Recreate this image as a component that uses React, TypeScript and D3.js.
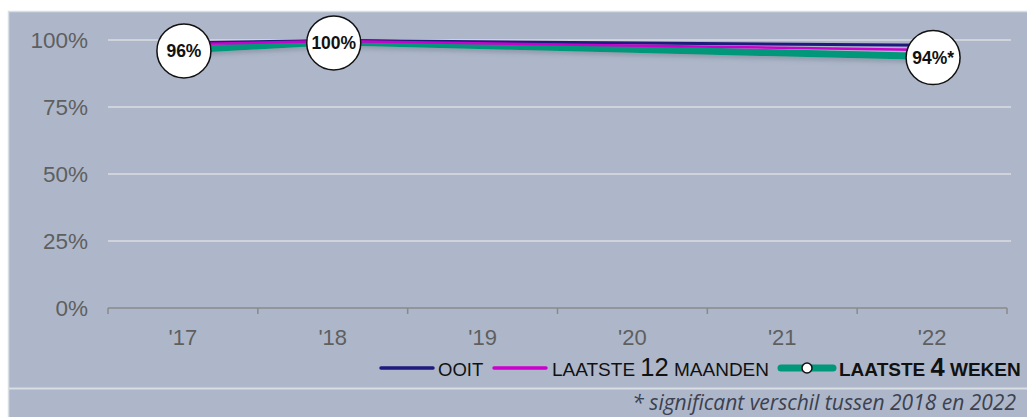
import React, { useRef, useEffect } from 'react';
import * as d3 from 'd3';

const years = ["'17", "'18", "'19", "'20", "'21", "'22"];
const ooit: (number | null)[] = [99, 99.8, null, null, null, 98];
const laatste12: (number | null)[] = [98.4, 99.6, null, null, null, 96.3];
const laatste4: (number | null)[] = [96.3, 99.3, null, null, null, 93.8];
const bubbleLabels: (string | null)[] = ['96%', '100%', null, null, null, '94%*'];
const yTicks = [0, 25, 50, 75, 100];

const W = 1027;
const H = 417;
const BG = '#adb7c9';
const FONT = 'Liberation Sans, Arial, sans-serif';

export default function App() {
  const ref = useRef<SVGSVGElement | null>(null);

  useEffect(() => {
    if (!ref.current) return;
    const svg = d3.select(ref.current);
    svg.selectAll('*').remove();

    const defs = svg.append('defs');
    const f = defs.append('filter').attr('id', 'shadow').attr('x', '-5%').attr('y', '-50%').attr('width', '110%').attr('height', '300%');
    f.append('feDropShadow').attr('dx', 0).attr('dy', 3).attr('stdDeviation', 2).attr('flood-color', '#5a6478').attr('flood-opacity', 0.35);

    // panels
    svg.append('rect').attr('x', 8).attr('y', 11).attr('width', W - 8).attr('height', H - 11).attr('fill', BG);
    svg.append('line').attr('x1', 8).attr('x2', W).attr('y1', 11.5).attr('y2', 11.5).attr('stroke', '#d9dde4').attr('stroke-width', 1.5);
    svg.append('line').attr('x1', 8.5).attr('x2', 8.5).attr('y1', 11).attr('y2', H).attr('stroke', '#d9dde4').attr('stroke-width', 1.5);
    svg.append('line').attr('x1', 8).attr('x2', W).attr('y1', 388.5).attr('y2', 388.5).attr('stroke', '#d9dde4').attr('stroke-width', 2);

    const x = d3.scaleBand<string>().domain(years).range([108, 1007]);
    const y = d3.scaleLinear().domain([0, 100]).range([308, 40]);

    // gridlines
    svg.append('g').selectAll('line').data(yTicks.filter(t => t > 0)).join('line')
      .attr('x1', 108).attr('x2', 1011)
      .attr('y1', d => y(d)).attr('y2', d => y(d))
      .attr('stroke', '#dcdde0').attr('stroke-width', 1.5);

    // y labels
    svg.append('g').selectAll('text').data(yTicks).join('text')
      .attr('x', 88).attr('y', d => y(d)).attr('dy', '0.36em')
      .attr('text-anchor', 'end')
      .attr('font-family', FONT).attr('font-size', 22.5)
      .attr('fill', '#5f5f5f')
      .text(d => `${d}%`);

    // x axis
    const xAxis = svg.append('g').attr('transform', `translate(0,${y(0)})`)
      .call(d3.axisBottom(x).tickSize(0).tickPadding(0));
    xAxis.select('.domain').remove();
    xAxis.selectAll('.tick text').attr('y', 37).attr('dy', 0)
      .attr('font-family', FONT).attr('font-size', 22).attr('fill', '#5f5f5f');
    svg.append('line').attr('x1', 108).attr('x2', 1007).attr('y1', y(0)).attr('y2', y(0)).attr('stroke', '#8a8a8a').attr('stroke-width', 1.5);
    const bounds = years.map(d => x(d) as number).concat([1007]);
    svg.append('g').selectAll('line').data(bounds).join('line')
      .attr('x1', d => d).attr('x2', d => d)
      .attr('y1', y(0)).attr('y2', y(0) + 6)
      .attr('stroke', '#8a8a8a').attr('stroke-width', 1.5);

    const cx = (i: number) => (x(years[i]) as number) + x.bandwidth() / 2;
    const line = d3.line<[number, number]>().x(d => d[0]).y(d => d[1]);
    const pts = (arr: (number | null)[]) =>
      arr.map((v, i) => (v == null ? null : [cx(i), y(v)] as [number, number])).filter(Boolean) as [number, number][];

    svg.append('path').datum(pts(laatste4)).attr('d', line).attr('fill', 'none')
      .attr('stroke', '#00977a').attr('stroke-width', 7).attr('filter', 'url(#shadow)');
    svg.append('path').datum(pts(ooit)).attr('d', line).attr('fill', 'none')
      .attr('stroke', '#1e1a7e').attr('stroke-width', 3);
    svg.append('path').datum(pts(laatste12)).attr('d', line).attr('fill', 'none')
      .attr('stroke', '#cc00cc').attr('stroke-width', 2.5);

    // bubbles
    const bubbles = laatste4.map((v, i) => ({ v, i, label: bubbleLabels[i] })).filter(d => d.v != null && d.label);
    const bg = svg.append('g').selectAll('g').data(bubbles).join('g')
      .attr('transform', d => `translate(${cx(d.i) + 1},${y(d.v as number) + 1})`);
    bg.append('circle').attr('r', 27).attr('fill', '#fff').attr('stroke', '#111').attr('stroke-width', 1.5);
    bg.append('text').attr('text-anchor', 'middle').attr('dy', '0.36em')
      .attr('font-family', FONT).attr('font-size', 17.5).attr('font-weight', 'bold')
      .attr('fill', '#111').text(d => d.label as string);

    // legend
    const ly = 368;
    const lg = svg.append('g').attr('font-family', FONT).attr('fill', '#111');
    lg.append('line').attr('x1', 381).attr('x2', 433).attr('y1', ly).attr('y2', ly).attr('stroke', '#1e1a7e').attr('stroke-width', 3.5).attr('stroke-linecap', 'round');
    lg.append('text').attr('x', 438).attr('y', ly + 8).attr('font-size', 18.5).text('OOIT');
    lg.append('line').attr('x1', 494).attr('x2', 546).attr('y1', ly).attr('y2', ly).attr('stroke', '#cc00cc').attr('stroke-width', 3.5).attr('stroke-linecap', 'round');
    const t12 = lg.append('text').attr('x', 552).attr('y', ly + 8).attr('font-size', 19);
    t12.append('tspan').text('LAATSTE ');
    t12.append('tspan').attr('font-size', 25.5).text('12');
    t12.append('tspan').text(' MAANDEN');
    lg.append('line').attr('x1', 781).attr('x2', 833).attr('y1', ly).attr('y2', ly).attr('stroke', '#00977a').attr('stroke-width', 7).attr('stroke-linecap', 'round');
    lg.append('circle').attr('cx', 807).attr('cy', ly).attr('r', 5).attr('fill', '#fff').attr('stroke', '#111').attr('stroke-width', 1.5);
    const t4 = lg.append('text').attr('x', 839).attr('y', ly + 8).attr('font-size', 19).attr('font-weight', 'bold');
    t4.append('tspan').text('LAATSTE ');
    t4.append('tspan').attr('font-size', 25.5).text('4');
    t4.append('tspan').text(' WEKEN');

    // footnote
    svg.append('text').attr('x', 1016).attr('y', 410).attr('text-anchor', 'end')
      .attr('font-family', 'Open Sans, sans-serif').attr('font-style', 'italic').attr('font-size', 21)
      .attr('fill', '#3c4150').text('* significant verschil tussen 2018 en 2022');
  }, []);

  return (
    <svg ref={ref} width={W} height={H}
      style={{ position: 'absolute', left: 0, top: 0, background: '#fff', display: 'block' }} />
  );
}
